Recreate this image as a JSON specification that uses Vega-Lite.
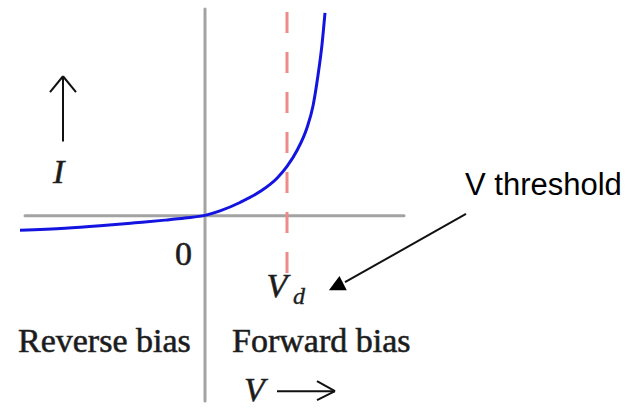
{
  "$schema": "https://vega.github.io/schema/vega-lite/v6.json",
  "width": 638,
  "height": 408,
  "autosize": {"type": "fit", "contains": "padding"},
  "padding": 0,
  "background": "white",
  "config": {"view": {"stroke": null}},
  "datasets": {
    "curve": [
      {"x": -1.85, "y": -0.145},
      {"x": -1.4, "y": -0.125},
      {"x": -1.05, "y": -0.10},
      {"x": -0.7, "y": -0.07},
      {"x": -0.4, "y": -0.043},
      {"x": -0.2, "y": -0.022},
      {"x": 0, "y": 0.005},
      {"x": 0.15, "y": 0.05},
      {"x": 0.35, "y": 0.135},
      {"x": 0.55, "y": 0.245},
      {"x": 0.72, "y": 0.38},
      {"x": 0.82, "y": 0.50},
      {"x": 0.92, "y": 0.66},
      {"x": 1.02, "y": 0.89},
      {"x": 1.08, "y": 1.11},
      {"x": 1.13, "y": 1.42},
      {"x": 1.17, "y": 1.73},
      {"x": 1.20, "y": 2.05}
    ],
    "axes": [
      {"x": -1.80, "y": 0, "x2": 1.99, "y2": 0},
      {"x": 0, "y": 2.09, "x2": 0, "y2": -1.87}
    ],
    "threshold": [
      {"x": 0.82, "y": 2.06, "x2": 0.82, "y2": -0.59}
    ],
    "arrows": [
      {"x": -1.42, "y": 1.40, "x2": -1.42, "y2": 0.75},
      {"x": -1.42, "y": 1.41, "x2": -1.55, "y2": 1.25},
      {"x": -1.42, "y": 1.41, "x2": -1.29, "y2": 1.25},
      {"x": 0.72, "y": -1.77, "x2": 1.30, "y2": -1.77},
      {"x": 1.30, "y": -1.77, "x2": 1.12, "y2": -1.67},
      {"x": 1.30, "y": -1.77, "x2": 1.12, "y2": -1.86},
      {"x": 2.61, "y": 0.02, "x2": 1.40, "y2": -0.67}
    ],
    "heads": [
      {"x": 1.31, "y": -0.715}
    ],
    "labels": [
      {"group": "serif", "x": -1.87, "y": -1.37, "text": "Reverse bias"},
      {"group": "serif", "x": 0.27, "y": -1.37, "text": "Forward bias"},
      {"group": "serif", "x": -0.30, "y": -0.50, "text": "0"},
      {"group": "italic", "x": -1.52, "y": 0.33, "text": "I"},
      {"group": "italic", "x": 0.615, "y": -0.82, "text": "V"},
      {"group": "italic", "x": 0.39, "y": -1.87, "text": "V"},
      {"group": "sub", "x": 0.88, "y": -0.89, "text": "d"},
      {"group": "sans", "x": 2.60, "y": 0.21, "text": "V threshold"}
    ]
  },
  "layer": [
    {
      "data": {"name": "axes"},
      "mark": {"type": "rule", "color": "#a3a3a3", "strokeWidth": 3, "strokeCap": "round"},
      "encoding": {
        "x": {"field": "x", "type": "quantitative", "scale": {"domain": [-2.05, 4.33], "nice": false, "zero": false}, "axis": null},
        "y": {"field": "y", "type": "quantitative", "scale": {"domain": [-1.90, 2.18], "nice": false, "zero": false}, "axis": null},
        "x2": {"field": "x2"},
        "y2": {"field": "y2"}
      }
    },
    {
      "data": {"name": "threshold"},
      "mark": {"type": "rule", "color": "#f08a8a", "strokeWidth": 3, "strokeDash": [21, 19]},
      "encoding": {
        "x": {"field": "x", "type": "quantitative"},
        "y": {"field": "y", "type": "quantitative"},
        "x2": {"field": "x2"},
        "y2": {"field": "y2"}
      }
    },
    {
      "data": {"name": "curve"},
      "mark": {"type": "line", "color": "#1414e0", "strokeWidth": 3, "interpolate": "monotone"},
      "encoding": {
        "x": {"field": "x", "type": "quantitative"},
        "y": {"field": "y", "type": "quantitative"}
      }
    },
    {
      "data": {"name": "arrows"},
      "mark": {"type": "rule", "color": "#111111", "strokeWidth": 2},
      "encoding": {
        "x": {"field": "x", "type": "quantitative"},
        "y": {"field": "y", "type": "quantitative"},
        "x2": {"field": "x2"},
        "y2": {"field": "y2"}
      }
    },
    {
      "data": {"name": "heads"},
      "mark": {"type": "point", "shape": "M0,-1L1,1L-1,1Z", "filled": true, "color": "#000000", "opacity": 1, "size": 256, "angle": 243},
      "encoding": {
        "x": {"field": "x", "type": "quantitative"},
        "y": {"field": "y", "type": "quantitative"}
      }
    },
    {
      "data": {"name": "labels"},
      "transform": [{"filter": "datum.group == 'serif'"}],
      "mark": {"type": "text", "font": "Liberation Serif", "fontSize": 34, "align": "left", "baseline": "alphabetic", "color": "#1a1a1a", "stroke": "#2a2a2a", "strokeWidth": 0.6},
      "encoding": {
        "x": {"field": "x", "type": "quantitative"},
        "y": {"field": "y", "type": "quantitative"},
        "text": {"field": "text"}
      }
    },
    {
      "data": {"name": "labels"},
      "transform": [{"filter": "datum.group == 'italic'"}],
      "mark": {"type": "text", "font": "Liberation Serif", "fontSize": 34, "fontStyle": "italic", "align": "left", "baseline": "alphabetic", "color": "#1a1a1a", "stroke": "#2a2a2a", "strokeWidth": 0.6},
      "encoding": {
        "x": {"field": "x", "type": "quantitative"},
        "y": {"field": "y", "type": "quantitative"},
        "text": {"field": "text"}
      }
    },
    {
      "data": {"name": "labels"},
      "transform": [{"filter": "datum.group == 'sub'"}],
      "mark": {"type": "text", "font": "Liberation Serif", "fontSize": 24, "fontStyle": "italic", "align": "left", "baseline": "alphabetic", "color": "#1a1a1a", "stroke": "#2a2a2a", "strokeWidth": 0.4},
      "encoding": {
        "x": {"field": "x", "type": "quantitative"},
        "y": {"field": "y", "type": "quantitative"},
        "text": {"field": "text"}
      }
    },
    {
      "data": {"name": "labels"},
      "transform": [{"filter": "datum.group == 'sans'"}],
      "mark": {"type": "text", "font": "Liberation Sans", "fontSize": 31, "align": "left", "baseline": "alphabetic", "color": "#000000"},
      "encoding": {
        "x": {"field": "x", "type": "quantitative"},
        "y": {"field": "y", "type": "quantitative"},
        "text": {"field": "text"}
      }
    }
  ]
}
